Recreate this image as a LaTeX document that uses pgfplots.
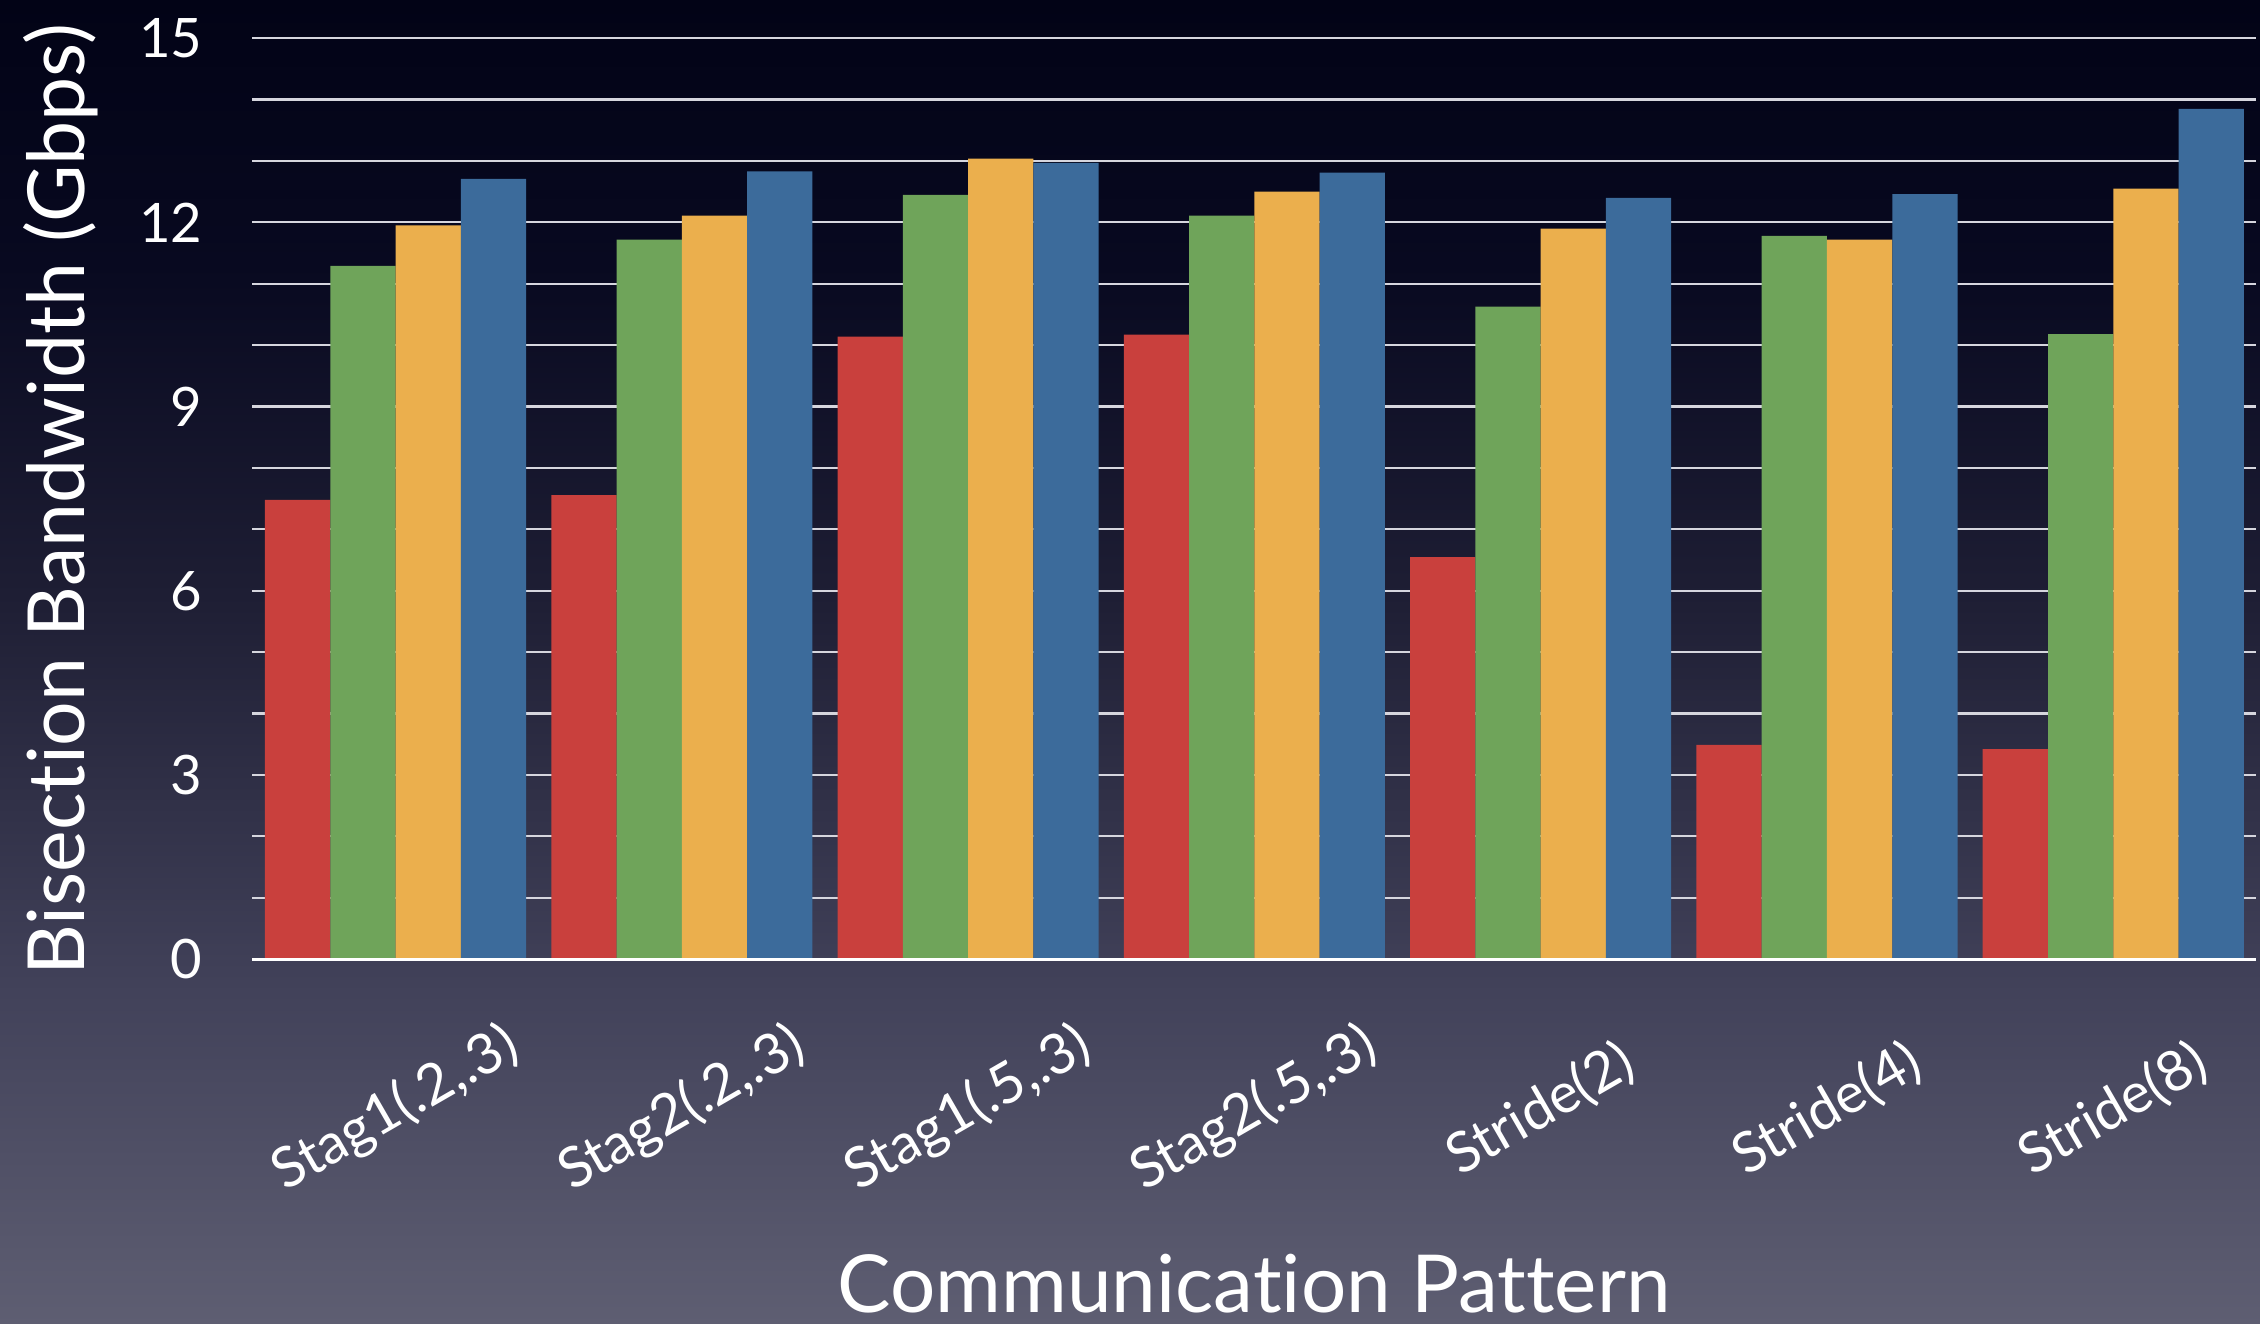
\documentclass[border=0pt]{standalone}
\usepackage{fontspec}
\setmainfont{Lato}[Ligatures={NoCommon}]
\usepackage{pgfplots}
\usepackage{pgfplotstable}
\pgfplotsset{compat=1.18}

\definecolor{barred}{RGB}{201,64,61}
\definecolor{bargreen}{RGB}{111,164,90}
\definecolor{barorange}{RGB}{235,175,77}
\definecolor{barblue}{RGB}{60,107,155}
\definecolor{gridc}{RGB}{214,214,222}
\definecolor{bgtop}{RGB}{2,3,22}
\definecolor{bgupper}{RGB}{8,9,32}
\definecolor{bgmid}{RGB}{30,30,52}
\definecolor{bglow}{RGB}{66,66,90}
\definecolor{bgbottom}{RGB}{94,94,114}

% TikZ stretches the middle half (25bp..75bp) of a shading over the path
\pgfdeclareverticalshading{slidebg}{100bp}{%
  color(0bp)=(bgbottom); color(25bp)=(bgbottom); color(37.5bp)=(bglow);
  color(52.5bp)=(bgmid); color(65bp)=(bgupper); color(75bp)=(bgtop);
  color(100bp)=(bgtop)}

% Bisection bandwidth (Gbps) per communication pattern, four configurations
\pgfplotstableread{
x  red   green  orange blue
0  7.48  11.29  11.95  12.71
1  7.56  11.72  12.11  12.83
2  10.14 12.45  13.04  12.97
3  10.17 12.11  12.50  12.81
4  6.55  10.63  11.90  12.40
5  3.49  11.78  11.72  12.46
6  3.42  10.18  12.55  13.85
}\bwdata

\begin{document}
\begin{tikzpicture}
\useasboundingbox (0pt,0pt) rectangle (565pt,331pt);
\shade[shading=slidebg] (0pt,0pt) rectangle (565pt,331pt);
\begin{axis}[
  at={(63.1pt,91.2pt)}, anchor=south west,
  scale only axis, width=501pt, height=230.25pt,
  xmin=-0.5, xmax=6.5, ymin=0, ymax=15,
  axis line style={draw=none},
  major tick length=0pt, minor tick length=0pt,
  ytick={0,3,...,15},
  minor ytick={1,2,4,5,7,8,10,11,13,14},
  ymajorgrids, yminorgrids,
  grid style={gridc, line width=0.55pt},
  minor grid style={gridc, line width=0.55pt},
  xtick={0,...,6},
  xticklabels={{Stag1(.2,.3)},{Stag2(.2,.3)},{Stag1(.5,.3)},{Stag2(.5,.3)},{Stride(2)},{Stride(4)},{Stride(8)}},
  /pgf/number format/assume math mode=true,
  yticklabel style={white, font=\fontsize{13.6}{15}\selectfont, anchor=east, xshift=-9pt},
  xticklabel style={white, font=\fontsize{14}{16}\selectfont, yshift=-37.5pt, rotate=30, anchor=center},
  clip=false,
]
\addplot[ybar, bar width=0.228, bar shift=0pt, fill=barred, draw=none]
  table[x expr=\thisrow{x}-0.342, y=red]{\bwdata};
\addplot[ybar, bar width=0.228, bar shift=0pt, fill=bargreen, draw=none]
  table[x expr=\thisrow{x}-0.114, y=green]{\bwdata};
\addplot[ybar, bar width=0.228, bar shift=0pt, fill=barorange, draw=none]
  table[x expr=\thisrow{x}+0.114, y=orange]{\bwdata};
\addplot[ybar, bar width=0.228, bar shift=0pt, fill=barblue, draw=none]
  table[x expr=\thisrow{x}+0.342, y=blue]{\bwdata};
\draw[white, line width=0.8pt] (axis cs:-0.5,0) -- (axis cs:6.5,0);
\end{axis}
\node[white, rotate=90, inner sep=0pt, font=\fontsize{19.7}{22}\selectfont] at (15.3pt,206pt) {Bisection Bandwidth (Gbps)};
\node[white, inner sep=0pt, font=\fontsize{20}{23}\selectfont] at (313.5pt,10.2pt) {Communication Pattern};
\end{tikzpicture}
\end{document}
